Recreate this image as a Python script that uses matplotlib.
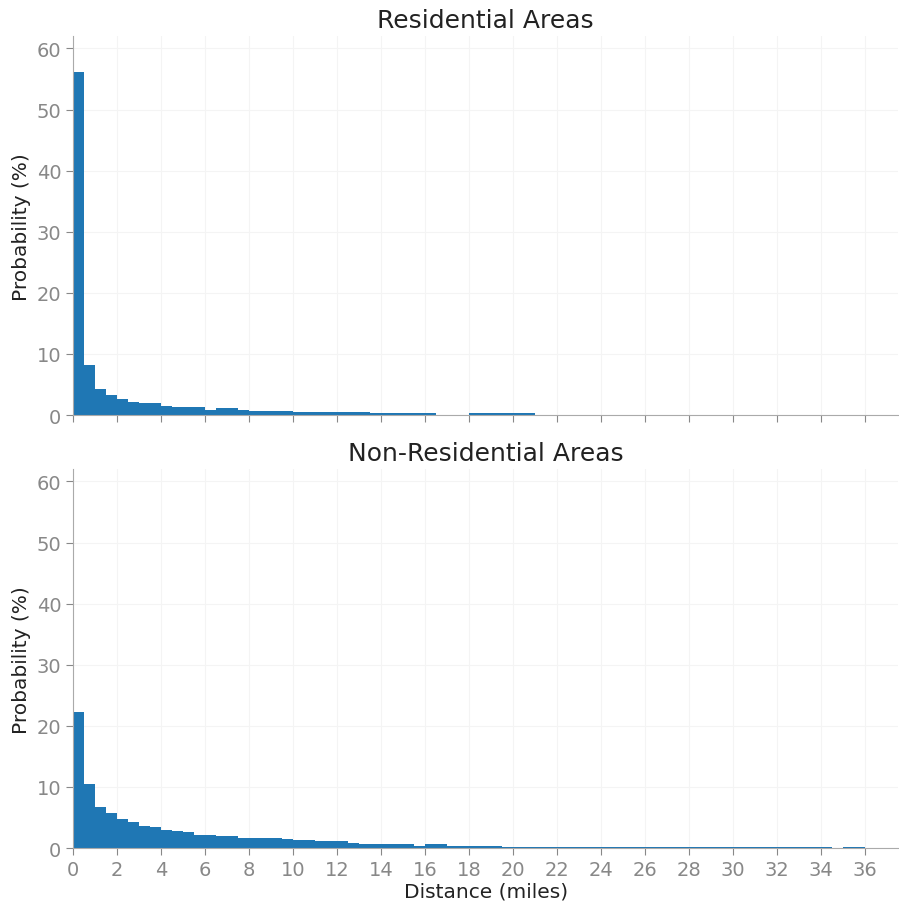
import numpy as np
import matplotlib
matplotlib.use("Agg")
import matplotlib.pyplot as plt

# histogram of trip distance, 0.5 mile bins, probability in percent
bin_width = 0.5

residential = [
    56.2, 8.2, 4.2, 3.2, 2.7, 2.1, 1.9, 1.9, 1.5, 1.3, 1.3, 1.3, 0.9, 1.1, 1.1, 0.9,
    0.65, 0.65, 0.65, 0.65,
    0.45, 0.45, 0.45, 0.45, 0.45, 0.45, 0.45,
    0.25, 0.25, 0.25, 0.25, 0.25, 0.25,
    0.0, 0.0, 0.0,
    0.25, 0.25, 0.25, 0.25, 0.25, 0.25,
]

non_residential = [
    22.2, 10.5, 6.7, 5.7, 4.8, 4.2, 3.6, 3.4, 3.0, 2.8, 2.55,
    2.2, 2.2, 1.9, 1.9,
    1.7, 1.7, 1.7, 1.7,
    1.5, 1.3, 1.3, 1.2, 1.2, 1.2, 0.9,
    0.65, 0.65, 0.65, 0.65, 0.65,
    0.4, 0.7, 0.7,
    0.4, 0.4, 0.4, 0.4, 0.4,
    0.15, 0.15, 0.15, 0.15, 0.15, 0.15, 0.15, 0.15, 0.15, 0.15,
    0.15, 0.15, 0.15, 0.15, 0.15, 0.15, 0.15, 0.15, 0.15, 0.15,
    0.15, 0.15, 0.15, 0.15, 0.15, 0.15, 0.15, 0.15, 0.15, 0.15,
    0.0,
    0.15, 0.15,
]

panels = [("Residential Areas", residential), ("Non-Residential Areas", non_residential)]

fig = plt.figure(figsize=(8.99, 9.04), dpi=100)
ax_top = fig.add_axes([0.0812, 0.5398, 0.918, 0.419])
ax_bot = fig.add_axes([0.0812, 0.0608, 0.918, 0.419], sharex=ax_top)

for ax, (title, vals) in zip([ax_top, ax_bot], panels):
    vals = np.asarray(vals)
    left = np.arange(len(vals)) * bin_width
    ax.bar(left, vals, width=bin_width, align="edge", color="#1f77b4", linewidth=0)
    ax.set_title(title, fontsize=18, color="#222222", pad=7)
    ax.set_ylabel("Probability (%)", fontsize=14.5, color="#222222")
    ax.set_ylim(0, 62)
    ax.set_xlim(0, 37.5)
    ax.set_xticks(np.arange(0, 37, 2))
    ax.set_yticks(np.arange(0, 61, 10))
    ax.grid(True, color="#f4f4f4", linewidth=0.8)
    ax.set_axisbelow(True)
    for s in ["top", "right"]:
        ax.spines[s].set_visible(False)
    for s in ["left", "bottom"]:
        ax.spines[s].set_color("#aaaaaa")
    ax.tick_params(colors="#888888", labelsize=14, length=5)

ax_top.tick_params(labelbottom=False)
ax_bot.set_xlabel("Distance (miles)", fontsize=14.5, color="#222222", labelpad=2)

fig.savefig("out.png", dpi=100)
